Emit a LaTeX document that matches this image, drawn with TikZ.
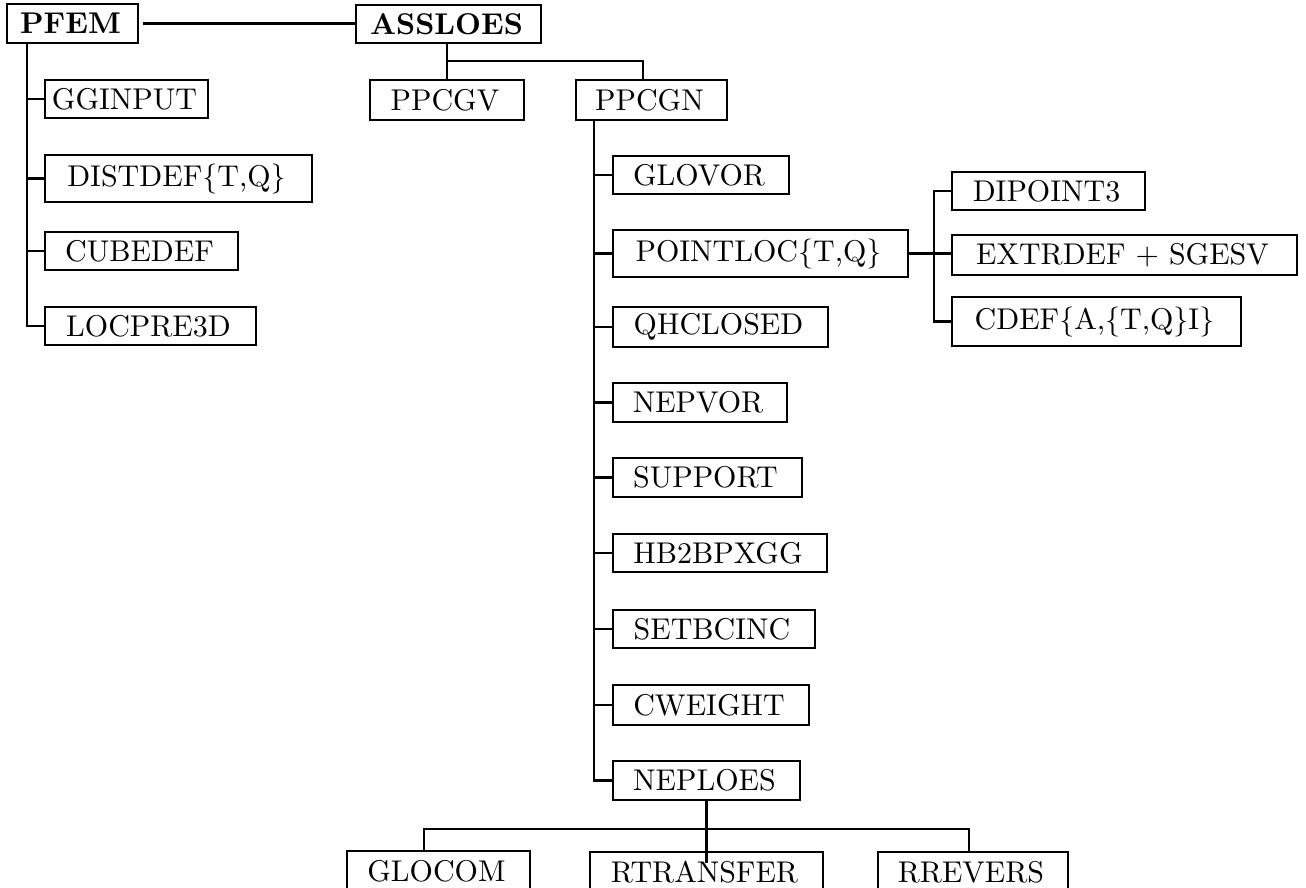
\documentclass[tikz,border=0pt]{standalone}
\usepackage{graphicx}

% Labels are set at 10pt and magnified, which keeps the wide 10pt letter shapes.
\newcommand\lbl[1]{\scalebox{3}{#1}}

\tikzset{
  tbox/.style={draw, line width=2.9pt, inner sep=0pt, outer sep=0pt,
               anchor=north west, align=center},
  conn/.style={line width=2.2pt, line cap=rect},
}

% \treebox{name}{left}{top}{right}{bottom}{text}
\newcommand\treebox[6]{%
  \node[tbox, minimum width={#4-#2}, minimum height={#5-#3}] (#1) at (#2,#3) {\hspace*{-4pt}#6};}

\begin{document}
\begin{tikzpicture}[x=1pt, y=-1pt]
\clip (0,0) rectangle (1306,887);
\fill[white] (0,0) rectangle (1306,887);

% top level
\treebox{PFEM}{7}{4}{138}{43}{\lbl{\textbf{PFEM}}}
\treebox{ASSLOES}{356}{5}{541}{43}{\lbl{\textbf{ASSLOES}}}

% PFEM children
\treebox{GGINPUT}{45}{80}{208}{118}{\lbl{GGINPUT}}
\treebox{DISTDEF}{45}{155}{312}{202}{\lbl{DISTDEF\{T,Q\}}}
\treebox{CUBEDEF}{45}{232}{238}{270}{\lbl{CUBEDEF}}
\treebox{LOCPRE3D}{45}{307}{256}{345}{\lbl{LOCPRE3D}}

% ASSLOES children
\treebox{PPCGV}{370}{80}{524}{120}{\lbl{PPCGV}}
\treebox{PPCGN}{576}{80}{727}{120}{\lbl{PPCGN}}

% PPCGN children
\treebox{GLOVOR}{613}{156}{789}{194}{\lbl{GLOVOR}}
\treebox{POINTLOC}{613}{230}{908}{277}{\lbl{POINTLOC\{T,Q\}}}
\treebox{QHCLOSED}{613}{307}{828}{347}{\lbl{QHCLOSED}}
\treebox{NEPVOR}{613}{383}{787}{422}{\lbl{NEPVOR}}
\treebox{SUPPORT}{613}{458}{802}{497}{\lbl{SUPPORT}}
\treebox{HB2BPXGG}{613}{534}{827}{572}{\lbl{HB2BPXGG}}
\treebox{SETBCINC}{613}{610}{815}{648}{\lbl{SETBCINC}}
\treebox{CWEIGHT}{613}{685}{809}{725}{\lbl{CWEIGHT}}
\treebox{NEPLOES}{613}{761}{800}{800}{\lbl{NEPLOES}}

% POINTLOC children
\treebox{DIPOINT3}{952}{172}{1145}{210}{\lbl{DIPOINT3}}
\treebox{EXTRDEF}{952}{235}{1297}{275}{\lbl{EXTRDEF + SGESV}}
\treebox{CDEF}{952}{297}{1241}{346}{\lbl{CDEF\{A,\{T,Q\}I\}}}

% NEPLOES children
\treebox{GLOCOM}{347}{851}{530}{891}{\lbl{GLOCOM}}
\treebox{RTRANSFER}{590}{852}{823}{892}{\lbl{RTRANSFER}}
\treebox{RREVERS}{878}{852}{1068}{892}{\lbl{RREVERS}}

% junction points of the tree lines
\coordinate (pfemtrunk) at (27,43);
\coordinate (asplit) at (447,61);
\coordinate (pnjoin) at (643,80);
\coordinate (pntrunk) at (594,120);
\coordinate (ptrunk) at (934,191);
\coordinate (gdrop) at (424,829);
\coordinate (rdrop) at (969,829);

% PFEM -- ASSLOES
\draw[conn, shorten <=6pt] (PFEM.east) -- (PFEM.east -| ASSLOES.west);

% PFEM subtree
\draw[conn] (pfemtrunk) |- (LOCPRE3D.west);
\foreach \n in {GGINPUT, DISTDEF, CUBEDEF}
  \draw[conn] (\n.west -| pfemtrunk) -- (\n.west);

% ASSLOES subtree
\draw[conn] (ASSLOES.south -| asplit) -- (PPCGV.north -| asplit);
\draw[conn] (asplit) -| (pnjoin);

% PPCGN subtree
\draw[conn] (pntrunk) |- (NEPLOES.west);
\foreach \n in {GLOVOR, POINTLOC, QHCLOSED, NEPVOR, SUPPORT, HB2BPXGG, SETBCINC, CWEIGHT}
  \draw[conn] (\n.west -| pntrunk) -- (\n.west);

% POINTLOC subtree
\draw[conn] (POINTLOC.east) -- (POINTLOC.east -| EXTRDEF.west);
\draw[conn] (DIPOINT3.west) -- (DIPOINT3.west -| ptrunk) |- (CDEF.west);

% NEPLOES subtree
\draw[conn] (NEPLOES.south) -- ([yshift=-10pt]RTRANSFER.north -| NEPLOES.south);
\draw[conn] (GLOCOM.north -| gdrop) -- (gdrop) -- (rdrop) -- (RREVERS.north -| rdrop);
\end{tikzpicture}
\end{document}
